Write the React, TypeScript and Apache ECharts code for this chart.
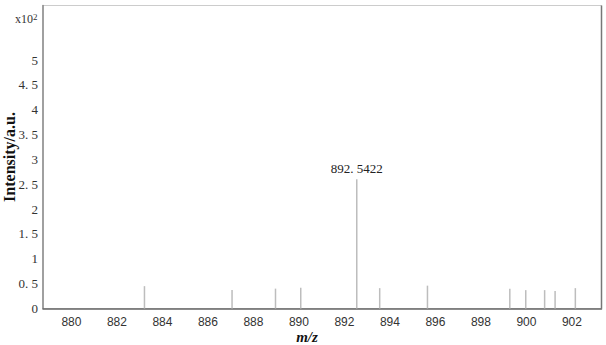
import React, { useEffect, useRef } from "react";
import * as echarts from "echarts";

const mzValues = [883.21, 887.06, 888.97, 890.08, 892.5422, 893.55, 895.65, 899.27, 899.97, 900.8, 901.26, 902.15];
const intensities = [0.45, 0.37, 0.4, 0.42, 2.6, 0.41, 0.46, 0.4, 0.37, 0.37, 0.35, 0.41];
const labeledPeak = 892.5422;
const xTicks = [880, 882, 884, 886, 888, 890, 892, 894, 896, 898, 900, 902];
const yMaxLabel = 5;

export default function App() {
  const ref = useRef<HTMLDivElement>(null);
  useEffect(() => {
    const chart = echarts.init(ref.current!, null, { renderer: "svg" });
    const data = mzValues.map((x, i) => {
      const item: any = { value: [x, intensities[i]] };
      if (x === labeledPeak) {
        item.label = {
          show: true,
          position: "top",
          distance: 4,
          formatter: () => labeledPeak.toFixed(4).replace(".", ". "),
          fontFamily: "Liberation Serif",
          fontSize: 13,
          color: "#222",
        };
      }
      return item;
    });
    chart.setOption({
      animation: false,
      grid: {
        left: 43,
        top: 5.5,
        right: 4.5,
        bottom: 36.5,
        show: true,
        borderColor: "#ccc",
        borderWidth: 1,
        containLabel: false,
        outerBoundsMode: "none",
      },
      xAxis: {
        type: "value",
        min: 878.75,
        max: 903.3,
        axisLine: { show: true, onZero: false, lineStyle: { color: "#666", width: 1.5 } },
        axisTick: { show: false },
        splitLine: { show: false },
        axisLabel: {
          customValues: xTicks,
          color: "#333",
          fontFamily: "Liberation Sans",
          fontSize: 12,
          margin: 7,
        },
      },
      yAxis: {
        type: "value",
        min: 0,
        max: 6.1,
        interval: 0.5,
        axisLine: { show: true, lineStyle: { color: "#888", width: 1.5 } },
        axisTick: { show: false },
        splitLine: { show: false },
        axisLabel: {
          formatter: (v: number) => (v > yMaxLabel ? "" : String(v).replace(".", ". ")),
          color: "#333",
          fontFamily: "Liberation Serif",
          fontSize: 13,
          margin: 5,
        },
        name: "Intensity/a.u.",
        nameLocation: "middle",
        nameGap: 26,
        nameMoveOverlap: false,
        nameTextStyle: { fontFamily: "Liberation Serif", fontWeight: "bold", fontSize: 16, color: "#111" },
      },
      graphic: [
        {
          type: "text",
          x: 307,
          y: 329,
          style: {
            text: "m/z",
            align: "center",
            verticalAlign: "top",
            fontFamily: "Liberation Serif",
            fontStyle: "italic",
            fontWeight: "bold",
            fontSize: 15,
            fill: "#111",
          },
        },
        {
          type: "text",
          left: 15,
          top: 12,
          style: {
            text: "x10{sup|2}",
            fontFamily: "Liberation Serif",
            fontSize: 12,
            fill: "#333",
            rich: { sup: { fontSize: 9, verticalAlign: "top", padding: [0, 0, 5, 0], fontFamily: "Liberation Serif", fill: "#333" } },
          },
        },
        {
          type: "line",
          shape: { x1: 601.5, y1: 5.5, x2: 601.5, y2: 308.5 },
          style: { stroke: "#777", lineWidth: 1.5 },
        },
      ],
      series: [
        {
          type: "bar",
          data,
          barWidth: 1.5,
          itemStyle: { color: "#bdbdbd" },
        },
      ],
    });
    return () => chart.dispose();
  }, []);
  return <div ref={ref} style={{ position: "fixed", left: 0, top: 0, width: 606, height: 345, background: "#fff" }} />;
}
